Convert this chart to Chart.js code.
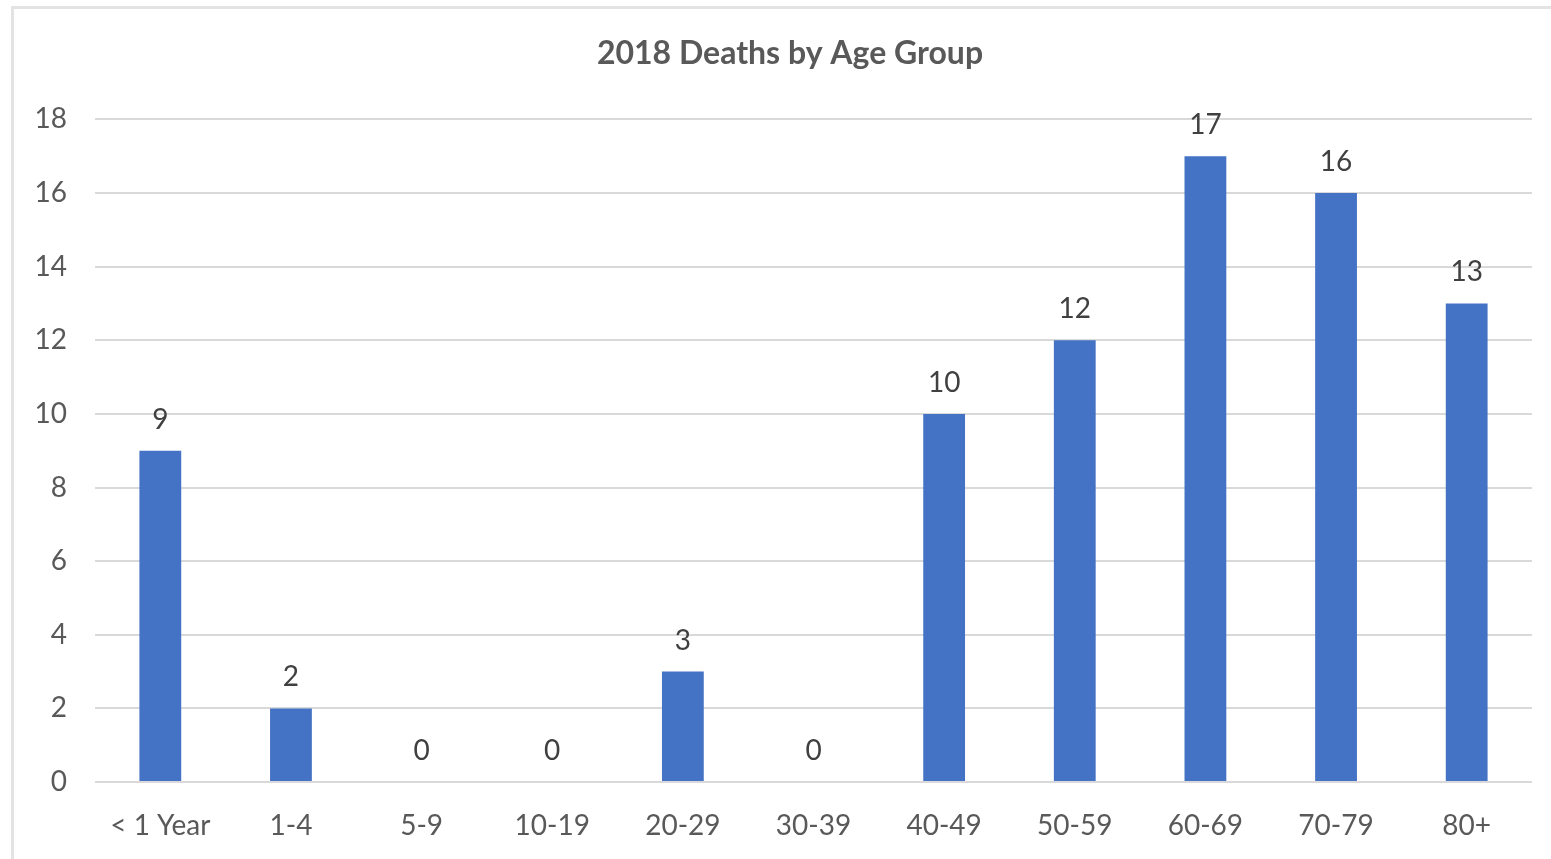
<!DOCTYPE html>
<html>
<head>
<meta charset="utf-8">
<script src="https://cdn.jsdelivr.net/npm/chart.js@4/dist/chart.umd.min.js"></script>
<style>
  body { margin: 0; background: #fff; overflow: hidden; }
  #frame { position: absolute; left: 11px; top: 6px; width: 1600px; height: 900px; border: 3px solid #e3e3e3; }
  #wrap { position: absolute; left: 0; top: 0; width: 1551px; height: 859px; }
</style>
</head>
<body>
<div id="frame"></div>
<div id="wrap"><canvas id="chart"></canvas></div>
<script>
var ageGroups = ["< 1 Year", "1-4", "5-9", "10-19", "20-29", "30-39", "40-49", "50-59", "60-69", "70-79", "80+"];
var deaths = [9, 2, 0, 0, 3, 0, 10, 12, 17, 16, 13];
var yTicks = [0, 2, 4, 6, 8, 10, 12, 14, 16, 18];

var FONT = "Lato, 'Open Sans', sans-serif";

// value labels above each bar
var barLabels = {
  id: "barLabels",
  afterDatasetsDraw: function (chart) {
    var ctx = chart.ctx;
    var meta = chart.getDatasetMeta(0);
    ctx.save();
    ctx.font = "28px " + FONT;
    ctx.fillStyle = "#404040";
    ctx.textAlign = "center";
    ctx.textBaseline = "middle";
    meta.data.forEach(function (bar, i) {
      ctx.fillText(String(deaths[i]), bar.x, bar.y - 31);
    });
    ctx.restore();
  }
};

// title sits centred on the whole frame, not just the plot
var shiftTitle = {
  id: "shiftTitle",
  afterLayout: function (chart) {
    if (chart.titleBlock) {
      chart.titleBlock.left = 48;
      chart.titleBlock.width = chart.titleBlock.right - 48;
    }
  }
};

var ctx = document.getElementById("chart");
var mychart = new Chart(ctx, {
  type: "bar",
  data: {
    labels: ageGroups,
    datasets: [
      {
        data: deaths,
        backgroundColor: "#4472C4",
        categoryPercentage: 1,
        barPercentage: 0.32,
      },
    ],
  },
  options: {
    responsive: true,
    maintainAspectRatio: false,
    animation: false,
    layout: {
      padding: { left: 0, right: 19, top: 0, bottom: 0 },
    },
    plugins: {
      legend: { display: false },
      tooltip: { enabled: false },
      title: {
        display: true,
        text: "2018 Deaths by Age Group",
        color: "#595959",
        font: { family: FONT, size: 32, weight: "bold" },
        padding: { top: 34, bottom: 47 },
      },
    },
    scales: {
      x: {
        afterFit: function (scale) {
          scale.height = 77;
        },
        grid: { display: false },
        border: { display: false },
        ticks: {
          color: "#595959",
          font: { family: FONT, size: 28 },
          padding: 19,
          maxRotation: 0,
          autoSkip: false,
        },
      },
      y: {
        min: 0,
        max: 18,
        afterFit: function (scale) {
          scale.width = 95;
        },
        afterBuildTicks: function (scale) {
          scale.ticks = yTicks.map(function (v) { return { value: v }; });
        },
        grid: { color: "#d9d9d9", lineWidth: 2, drawTicks: false },
        border: { display: false },
        ticks: {
          color: "#595959",
          font: { family: FONT, size: 28 },
          padding: 28,
        },
      },
    },
  },
  plugins: [barLabels, shiftTitle],
});
</script>
</body>
</html>
